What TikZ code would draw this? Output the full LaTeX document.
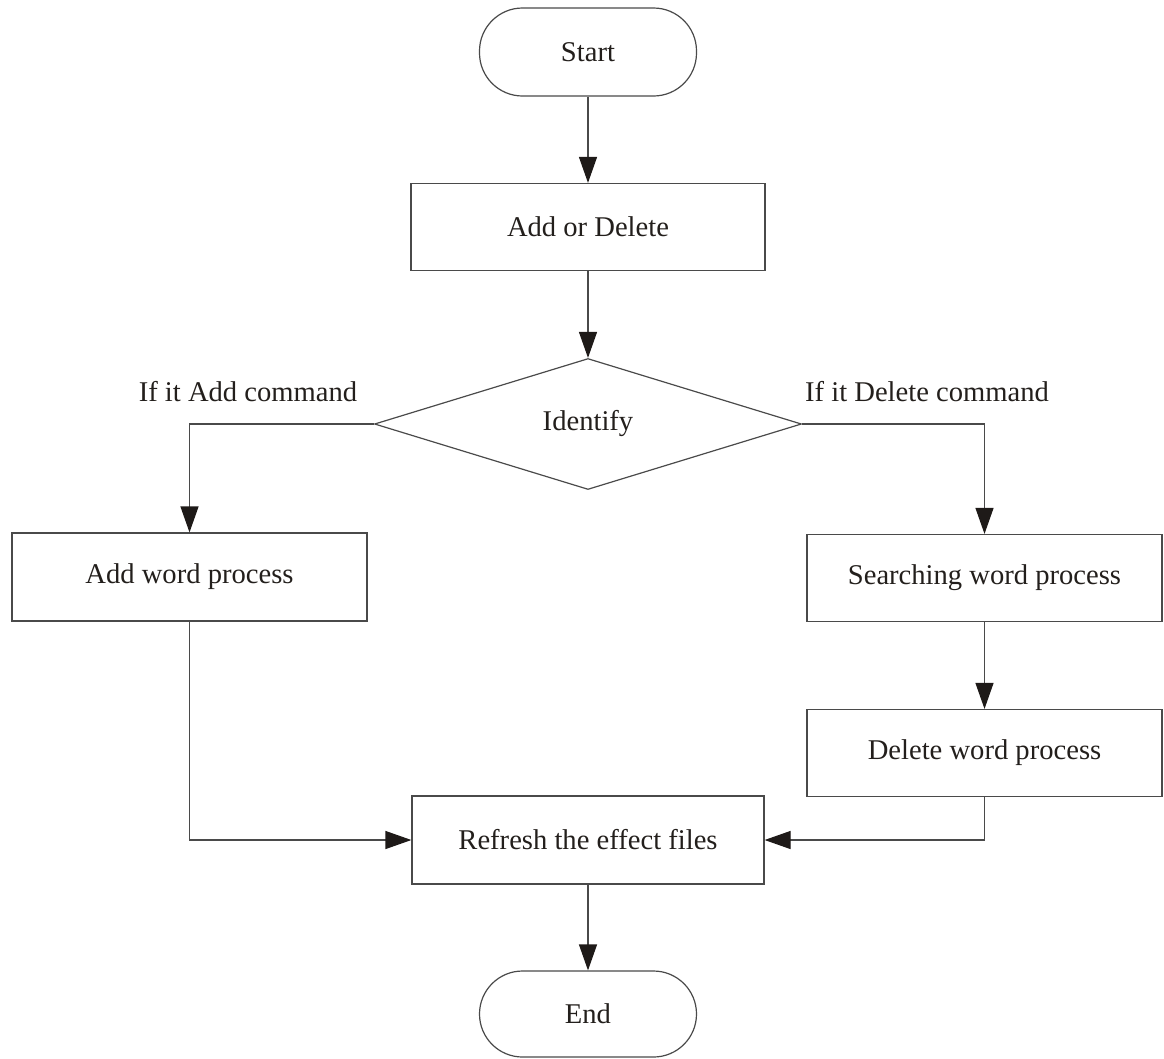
\documentclass[tikz,border=0pt]{standalone}
\usepackage{fontspec}
\setmainfont{Liberation Serif}
\usetikzlibrary{arrows.meta,shapes.geometric}
\definecolor{ink}{HTML}{231F1C}
\definecolor{edge}{HTML}{4A4A4A}
\definecolor{tip}{HTML}{1E1A18}
\begin{document}
\begin{tikzpicture}[x=1pt,y=-1pt,
  every node/.style={font=\fontsize{28.6}{34}\selectfont, text=ink},
  line/.style={draw=edge, line width=1.2pt},
  procbox/.style={line, rectangle, inner sep=0pt, minimum width=355pt, minimum height=88pt},
  terminal/.style={line, rectangle, rounded corners=43pt, inner sep=0pt, minimum width=217pt, minimum height=88pt},
  decision/.style={line, diamond, inner sep=0pt, minimum width=427pt, minimum height=131pt},
  flow/.style={line, -{Triangle[length=26pt,width=18pt,color=tip]}},
  caption/.style={inner sep=0pt},
]
\useasboundingbox (0,0) rectangle (1164,1058);

% main column
\node[terminal] (start) at (588,52) {Start};
\node[procbox, minimum width=354pt, minimum height=87pt] (addel) at (588,227) {Add or Delete};
\node[decision] (ident) at (588,424) {Identify};

% branches
\node[procbox] (addw) at (189.5,577) {Add word process};
\node[procbox, minimum height=87pt] (search) at (984.5,578) {Searching word process};
\node[procbox, minimum height=87pt] (delw) at (984.5,753) {Delete word process};

% merge and finish
\node[procbox, minimum width=352pt] (refresh) at (588,840) {Refresh the effect files};
\node[terminal, minimum height=86pt] (end) at (588,1014) {End};

% branch captions
\node[caption] (lbladd) at (248,392) {If it Add command};
\node[caption] (lbldel) at (927,392) {If it Delete command};

% connectors
\draw[flow] (start) -- (addel);
\draw[flow] (addel) -- (ident);
\draw[flow] (ident.west) -| (addw.north);
\draw[flow] (ident.east) -| (search.north);
\draw[flow] (search) -- (delw);
\draw[flow] (addw.south) |- (refresh.west);
\draw[flow] (delw.south) |- (refresh.east);
\draw[flow] (refresh) -- (end);
\end{tikzpicture}
\end{document}
